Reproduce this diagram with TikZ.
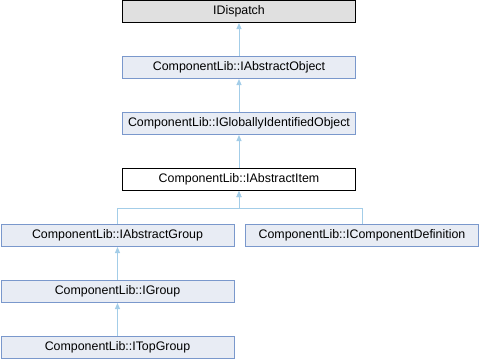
\documentclass[tikz,border=0pt]{standalone}
\usepackage{fontspec}
\setmainfont{Liberation Sans}
\usetikzlibrary{arrows.meta}
\definecolor{edgeblue}{HTML}{A3CDE8}
\definecolor{boxfill}{HTML}{E8ECF4}
\definecolor{boxline}{HTML}{7A98CC}

\begin{document}
\begin{tikzpicture}[x=1pt, y=-1pt, font=\fontsize{12.4}{14}\selectfont,
  cls/.style={rectangle, draw=boxline, fill=boxfill, line width=1pt, minimum width=233pt, minimum height=22pt, inner sep=0pt},
  inh/.style={edgeblue, line width=1pt, -{Triangle[width=5pt, length=6pt]}}]
  \useasboundingbox (0,0) rectangle (480,360);
  \node[cls, draw=black, fill=black!12] (disp) at (239,11.5) {IDispatch};
  \node[cls] (obj) at (239,67.5) {ComponentLib::IAbstractObject};
  \node[cls] (gid) at (239,123.5) {ComponentLib::IGloballyIdentifiedObject};
  \node[cls, draw=black, fill=white] (item) at (239,179.5) {ComponentLib::IAbstractItem};
  \node[cls] (grp) at (117.5,235.5) {ComponentLib::IAbstractGroup};
  \node[cls] (def) at (362,235.5) {ComponentLib::IComponentDefinition};
  \node[cls] (igrp) at (117.5,291.5) {ComponentLib::IGroup};
  \node[cls] (top) at (117.5,347.5) {ComponentLib::ITopGroup};
  \coordinate (split) at (239,208.5);
  \draw[inh] (obj) -- (disp); \draw[inh] (gid) -- (obj); \draw[inh] (item) -- (gid);
  \draw[inh] (grp.north) |- (split) -- (item.south);
  \draw[inh] (def.north) |- (split) -- (item.south);
  \draw[inh] (igrp) -- (grp); \draw[inh] (top) -- (igrp);
\end{tikzpicture}
\end{document}
